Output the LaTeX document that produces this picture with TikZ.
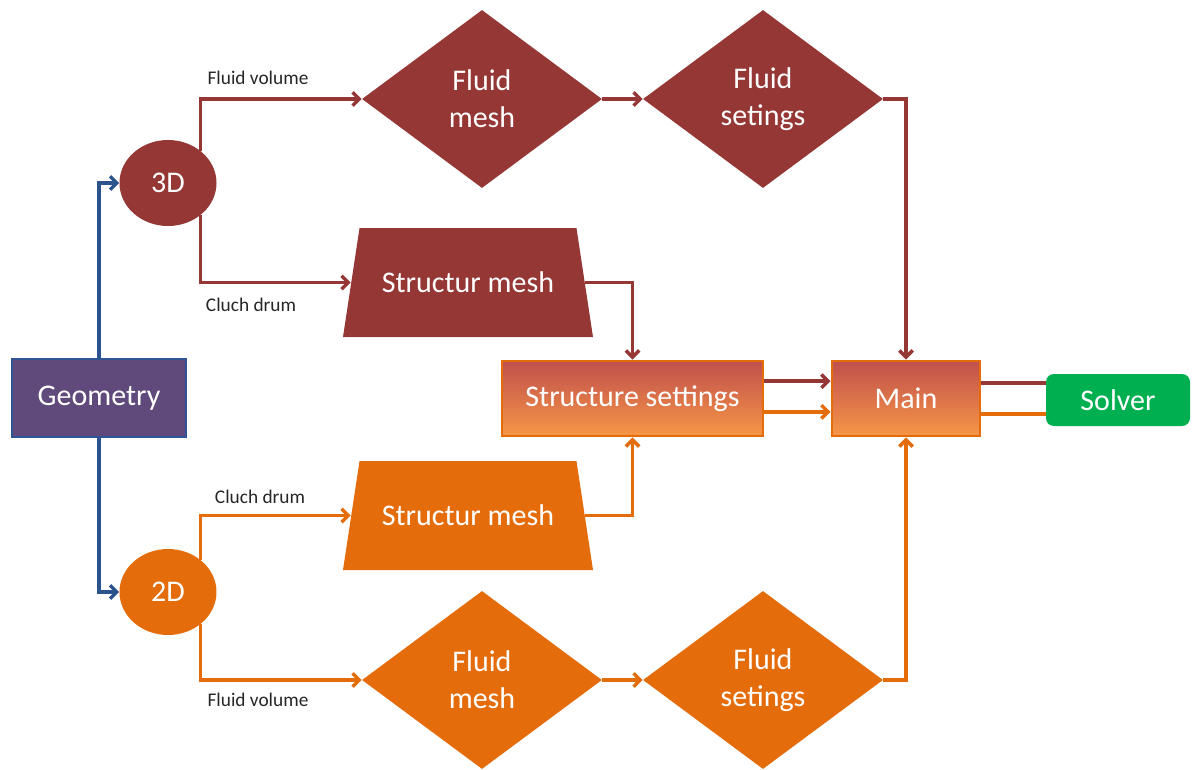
\documentclass[tikz,border=0pt]{standalone}
\usepackage{fontspec}
\setmainfont{Carlito}
\usetikzlibrary{shapes.geometric,arrows.meta,calc}

\definecolor{wine}{RGB}{149,55,53}
\definecolor{pumpkin}{RGB}{228,108,10}
\definecolor{navy}{RGB}{44,84,140}
\definecolor{plum}{RGB}{96,74,123}
\definecolor{geoedge}{RGB}{47,85,151}
\definecolor{grad top}{RGB}{192,80,77}
\definecolor{grad bot}{RGB}{247,150,70}
\definecolor{solvergreen}{RGB}{0,176,80}
\definecolor{labelgray}{RGB}{38,38,38}

\tikzset{
  bigtext/.style={font=\fontsize{22.5}{27.75}\selectfont, text=white, align=center},
  labeltext/.style={font=\fontsize{14.5}{17}\selectfont, text=labelgray},
  roundbox/.style={ellipse, bigtext, minimum width=72.75pt, minimum height=64.5pt, inner sep=0pt},
  diamondbox/.style={diamond, bigtext, minimum width=180pt, minimum height=133.5pt, inner sep=0pt, aspect=1.35},
  % trapezoid: a rectangle node (for text and anchors) with a slanted fill drawn behind it
  trapbox/.style={rectangle, bigtext, minimum width=187.5pt, minimum height=81.75pt, inner sep=0pt,
    path picture={\fill[#1] (path picture bounding box.south west) -- (path picture bounding box.south east)
      -- ([xshift=-12.4pt]path picture bounding box.north east) -- ([xshift=12.4pt]path picture bounding box.north west) -- cycle;}},
  gradbox/.style={rectangle, bigtext, top color=grad top, bottom color=grad bot,
    draw=pumpkin, line width=2.2pt, minimum height=56.25pt, inner sep=0pt},
  link/.style={line width=2.6pt},
  arrowlink/.style={link, -{Straight Barb[length=5pt,width=10pt]}},
}

\begin{document}
\begin{tikzpicture}[x=0.75pt, y=-0.75pt]
\useasboundingbox (0,0) rectangle (1192,770);

% --- nodes ---
\node[rectangle, bigtext, fill=plum, draw=geoedge, line width=1.6pt,
      minimum width=130.5pt, minimum height=58.5pt, inner sep=0pt] (geo) at (99,398) {Geometry};

\node[roundbox, fill=wine] (c3d) at (168,183) {3D};
\node[roundbox, fill=pumpkin] (c2d) at (168,592) {2D};

\node[diamondbox, fill=wine] (fm1) at (482,99) {Fluid\\mesh};
\node[diamondbox, fill=wine] (fs1) at (763,99) {Fluid\\setings};
\node[trapbox=wine] (tm1) at (468,282.5) {Structur mesh};

\node[trapbox=pumpkin] (tm2) at (468,515.5) {Structur mesh};
\node[diamondbox, fill=pumpkin] (fm2) at (482,680) {Fluid\\mesh};
\node[diamondbox, fill=pumpkin] (fs2) at (763,680) {Fluid\\setings};

\node[gradbox, minimum width=195.75pt] (ss) at (632.5,398.5) {Structure settings};
\node[gradbox, minimum width=111pt] (main) at (906,398.5) {Main};
\node[rectangle, rounded corners=6pt, bigtext, fill=solvergreen,
      minimum width=108pt, minimum height=39pt, inner sep=0pt] (solver) at (1118,400) {Solver};

% --- edge labels ---
\node[labeltext] (lbl1) at (258,78) {Fluid volume};
\node[labeltext] (lbl2) at (251,305) {Cluch drum};
\node[labeltext] (lbl3) at (260,497) {Cluch drum};
\node[labeltext] (lbl4) at (258,700) {Fluid volume};

% --- geometry split ---
\draw[arrowlink, navy] (geo.north) |- (c3d.west);
\draw[arrowlink, navy] (geo.south) |- (c2d.west);

% --- 3D branch ---
\draw[arrowlink, wine] (c3d.45) |- (fm1.west);
\draw[arrowlink, wine] (c3d.-45) |- ([xshift=6pt]tm1.west);
\draw[arrowlink, wine] (fm1.east) -- (fs1.west);
\draw[arrowlink, wine] (fs1.east) -| (main.north);
\draw[arrowlink, wine] ([xshift=-6pt]tm1.east) -| (ss.north);

% --- 2D branch ---
\draw[arrowlink, pumpkin] (c2d.45) |- ([xshift=6pt]tm2.west);
\draw[arrowlink, pumpkin] (c2d.-45) |- (fm2.west);
\draw[arrowlink, pumpkin] (fm2.east) -- (fs2.west);
\draw[arrowlink, pumpkin] (fs2.east) -| (main.south);
\draw[arrowlink, pumpkin] ([xshift=-6pt]tm2.east) -| (ss.south);

% --- settings into main, main into solver ---
\draw[arrowlink, wine] ([yshift=13pt]ss.east) -- ([yshift=13pt]ss.east -| main.west);
\draw[arrowlink, pumpkin] ([yshift=-10pt]ss.east) -- ([yshift=-10pt]ss.east -| main.west);
\draw[link, wine] ([yshift=11.5pt]main.east) -- ([yshift=11.5pt]main.east -| solver.west);
\draw[link, pumpkin] ([yshift=-11.5pt]main.east) -- ([yshift=-11.5pt]main.east -| solver.west);
\end{tikzpicture}
\end{document}
